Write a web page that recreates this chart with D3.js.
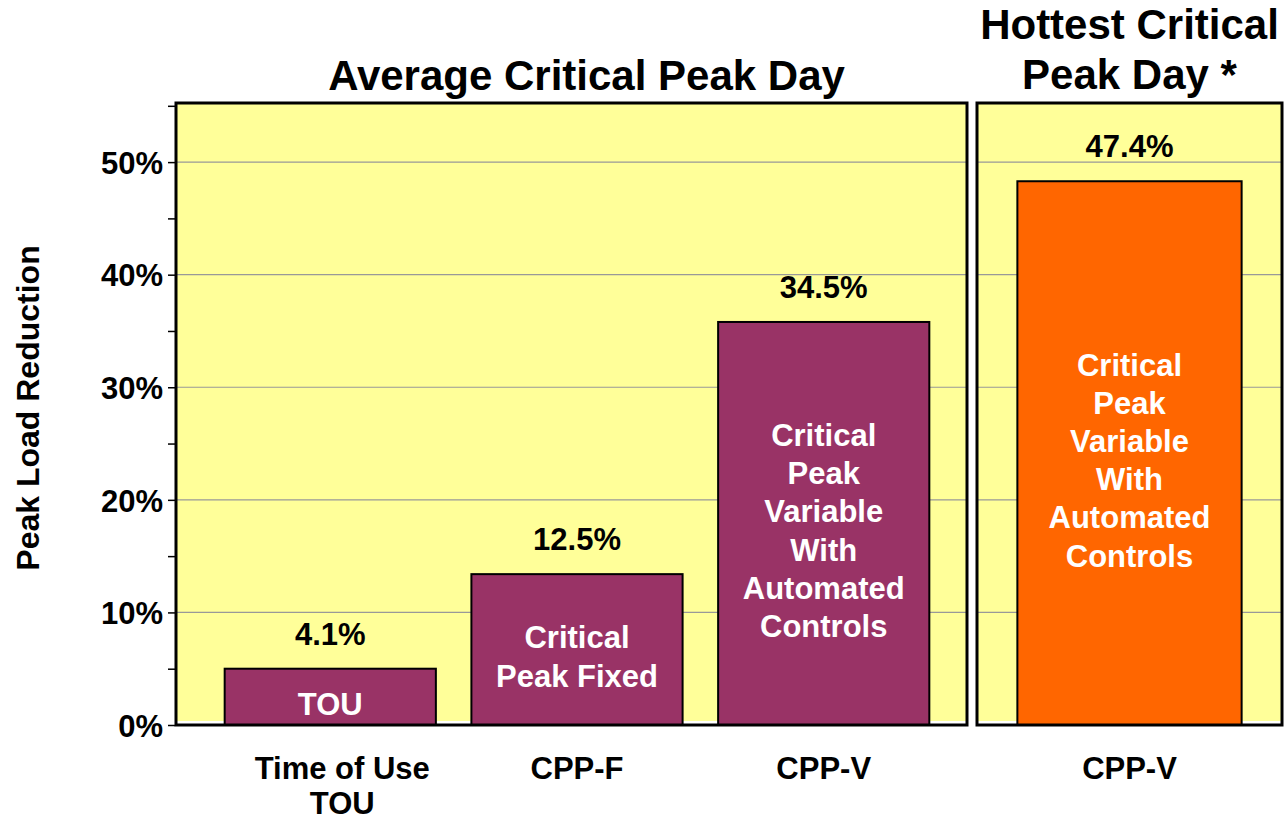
<!DOCTYPE html>
<html lang="en">
<head>
<meta charset="UTF-8">
<title>Peak Load Reduction</title>
<style>
  body { margin: 0; background: #fff; }
  text { font-family: Arial, "Liberation Sans", sans-serif; font-weight: bold; }
</style>
</head>
<body>
<script src="https://d3js.org/d3.v7.min.js"></script>
<script>
// average critical peak day panel
var categories = ["TOU", "CPP-F", "CPP-V"];
var xLabels = [["Time of Use", "TOU"], ["CPP-F"], ["CPP-V"]];
var barValues = [5.0, 13.4, 35.8];          // bar heights as drawn (%)
var valueLabels = ["4.1%", "12.5%", "34.5%"];
var barText = [["TOU"], ["Critical", "Peak Fixed"],
  ["Critical", "Peak", "Variable", "With", "Automated", "Controls"]];

// hottest critical peak day panel
var hotCategories = ["CPP-V"];
var hotLabels = [["CPP-V"]];
var hotValues = [48.3];
var hotValueLabels = ["47.4%"];
var hotText = [["Critical", "Peak", "Variable", "With", "Automated", "Controls"]];

var yTicks = [0, 10, 20, 30, 40, 50];
var yMinor = [5, 15, 25, 35, 45, 55];
var titleLeft = ["Average Critical Peak Day"];
var titleRight = ["Hottest Critical", "Peak Day *"];
var yTitle = "Peak Load Reduction";

var W = 1288, H = 821;
var plotTop = 103, plotBottom = 725;

var svg = d3.select("body").append("svg")
  .attr("width", W).attr("height", H);

var y = d3.scaleLinear().domain([0, 55.25]).range([plotBottom, plotTop]);

var panels = [
  {x0: 176, x1: 967, cats: categories, vals: barValues, labs: valueLabels, inner: barText,
   xl: xLabels, fill: "#993366", title: titleLeft, titleY: 90,
   band: d3.scaleBand().domain(categories).range([200, 954]).paddingInner(0.144).paddingOuter(0.1)},
  {x0: 977, x1: 1282, cats: hotCategories, vals: hotValues, labs: hotValueLabels, inner: hotText,
   xl: hotLabels, fill: "#FF6600", title: titleRight, titleY: 39,
   band: d3.scaleBand().domain(hotCategories).range([977, 1282]).paddingInner(0).paddingOuter(0.18)}
];

panels.forEach(function(p) {
  var g = svg.append("g");
  // yellow background, leaves a thin white strip at the bottom
  g.append("rect")
    .attr("x", p.x0).attr("y", plotTop)
    .attr("width", p.x1 - p.x0).attr("height", plotBottom - plotTop - 4)
    .attr("fill", "#FFFF99");

  // gridlines
  g.selectAll("line.grid")
    .data(yTicks.slice(1))
    .enter().append("line")
    .attr("class", "grid")
    .attr("x1", p.x0).attr("x2", p.x1)
    .attr("y1", function(d) { return y(d); })
    .attr("y2", function(d) { return y(d); })
    .attr("stroke", "#999").attr("stroke-width", 1.2);

  var data = p.cats.map(function(c, i) {
    return {cat: c, v: p.vals[i], lab: p.labs[i], inner: p.inner[i], xl: p.xl[i]};
  });

  g.selectAll("rect.bar")
    .data(data).enter().append("rect")
    .attr("class", "bar")
    .attr("x", function(d) { return p.band(d.cat); })
    .attr("width", p.band.bandwidth())
    .attr("y", function(d) { return y(d.v); })
    .attr("height", function(d) { return y(0) - y(d.v); })
    .attr("fill", p.fill)
    .attr("stroke", "#000").attr("stroke-width", 2);

  // value labels above bars
  g.selectAll("text.val")
    .data(data).enter().append("text")
    .attr("class", "val")
    .attr("x", function(d) { return p.band(d.cat) + p.band.bandwidth() / 2; })
    .attr("y", function(d) { return y(d.v) - 24; })
    .attr("text-anchor", "middle")
    .attr("font-size", "31px")
    .attr("fill", "#000")
    .text(function(d) { return d.lab; });

  // white text inside bars
  var lh = 38.2;
  data.forEach(function(d) {
    var cx = p.band(d.cat) + p.band.bandwidth() / 2;
    var mid = (y(d.v) + y(0)) / 2 + 7;
    var first = mid - (d.inner.length - 1) * lh / 2;
    g.selectAll(null)
      .data(d.inner).enter().append("text")
      .attr("x", cx)
      .attr("y", function(t, i) { return first + i * lh + 11; })
      .attr("text-anchor", "middle")
      .attr("font-size", "31px")
      .attr("fill", "#fff")
      .text(function(t) { return t; });

    // category labels below
    g.selectAll(null)
      .data(d.xl).enter().append("text")
      .attr("x", cx + (d.xl.length > 1 ? 12 : 0))
      .attr("y", function(t, i) { return 779 + i * 35; })
      .attr("text-anchor", "middle")
      .attr("font-size", "31px")
      .attr("fill", "#000")
      .text(function(t) { return t; });
  });

  // panel border
  g.append("rect")
    .attr("x", p.x0).attr("y", plotTop)
    .attr("width", p.x1 - p.x0).attr("height", plotBottom - plotTop)
    .attr("fill", "none")
    .attr("stroke", "#000").attr("stroke-width", 3);

  // title
  var cx = (p.x0 + p.x1) / 2 + (p.title.length > 1 ? 0 : 15);
  svg.selectAll(null)
    .data(p.title).enter().append("text")
    .attr("x", cx)
    .attr("y", function(t, i) { return p.titleY + i * 50; })
    .attr("text-anchor", "middle")
    .attr("font-size", "42px")
    .attr("fill", "#000")
    .text(function(t) { return t; });
});

// y axis
var yAxis = d3.axisLeft(y)
  .tickValues(yTicks)
  .tickSize(7)
  .tickPadding(5)
  .tickFormat(function(d) { return d + "%"; });

var ax = svg.append("g")
  .attr("transform", "translate(175,0)")
  .call(yAxis);
ax.select(".domain").remove();
ax.selectAll(".tick line").attr("stroke", "#000").attr("stroke-width", 1.5);
ax.selectAll(".tick text")
  .attr("font-size", "31px")
  .attr("fill", "#000")
  .attr("dy", "0.36em");

var axMinor = svg.append("g")
  .attr("transform", "translate(175,0)")
  .call(d3.axisLeft(y).tickValues(yMinor).tickSize(7).tickFormat(""));
axMinor.select(".domain").remove();
axMinor.selectAll(".tick line").attr("stroke", "#000").attr("stroke-width", 1.5);

// y axis title
svg.append("text")
  .attr("transform", "translate(39,408) rotate(-90)")
  .attr("text-anchor", "middle")
  .attr("font-size", "32px")
  .attr("fill", "#000")
  .text(yTitle);
</script>
</body>
</html>
